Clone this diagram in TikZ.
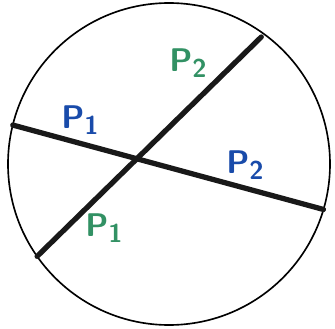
\documentclass[tikz,border=0pt]{standalone}
\usetikzlibrary{math}
\definecolor{myblue}{RGB}{25, 75, 170}
\definecolor{mygreen}{RGB}{50, 145, 100}
\newcommand{\Pn}[1]{P\raisebox{-0.35ex}{\fontsize{22}{22}\selectfont #1}}

\begin{document}
\begin{tikzpicture}[x=0.03cm,y=0.03cm,
  chord/.style={line width=4.5pt, color=black!90, line cap=round},
  plabel/.style={font=\sffamily\bfseries\fontsize{28}{28}\selectfont, inner sep=0pt}]
\tikzmath{
\R=161;
}
\useasboundingbox (0,0) rectangle (335,328);
\coordinate (O) at (169,164);

\draw[line width=1.4] (O) circle (\R);

% the two chords
\coordinate (B1) at ([shift={(166:\R)}]O);
\coordinate (B2) at ([shift={(-16.4:\R)}]O);
\coordinate (G1) at ([shift={(215:\R)}]O);
\coordinate (G2) at ([shift={(54:\R-4)}]O);
\draw[chord] (B1) -- (B2);
\draw[chord] (G1) -- (G2);

\node[plabel, color=myblue] (bp1) at (80,208) {\Pn{1}};
\node[plabel, color=myblue] (bp2) at (245,163) {\Pn{2}};
\node[plabel, color=mygreen] (gp2) at (188,265) {\Pn{2}};
\node[plabel, color=mygreen] (gp1) at (104,100) {\Pn{1}};

\end{tikzpicture}
\end{document}
